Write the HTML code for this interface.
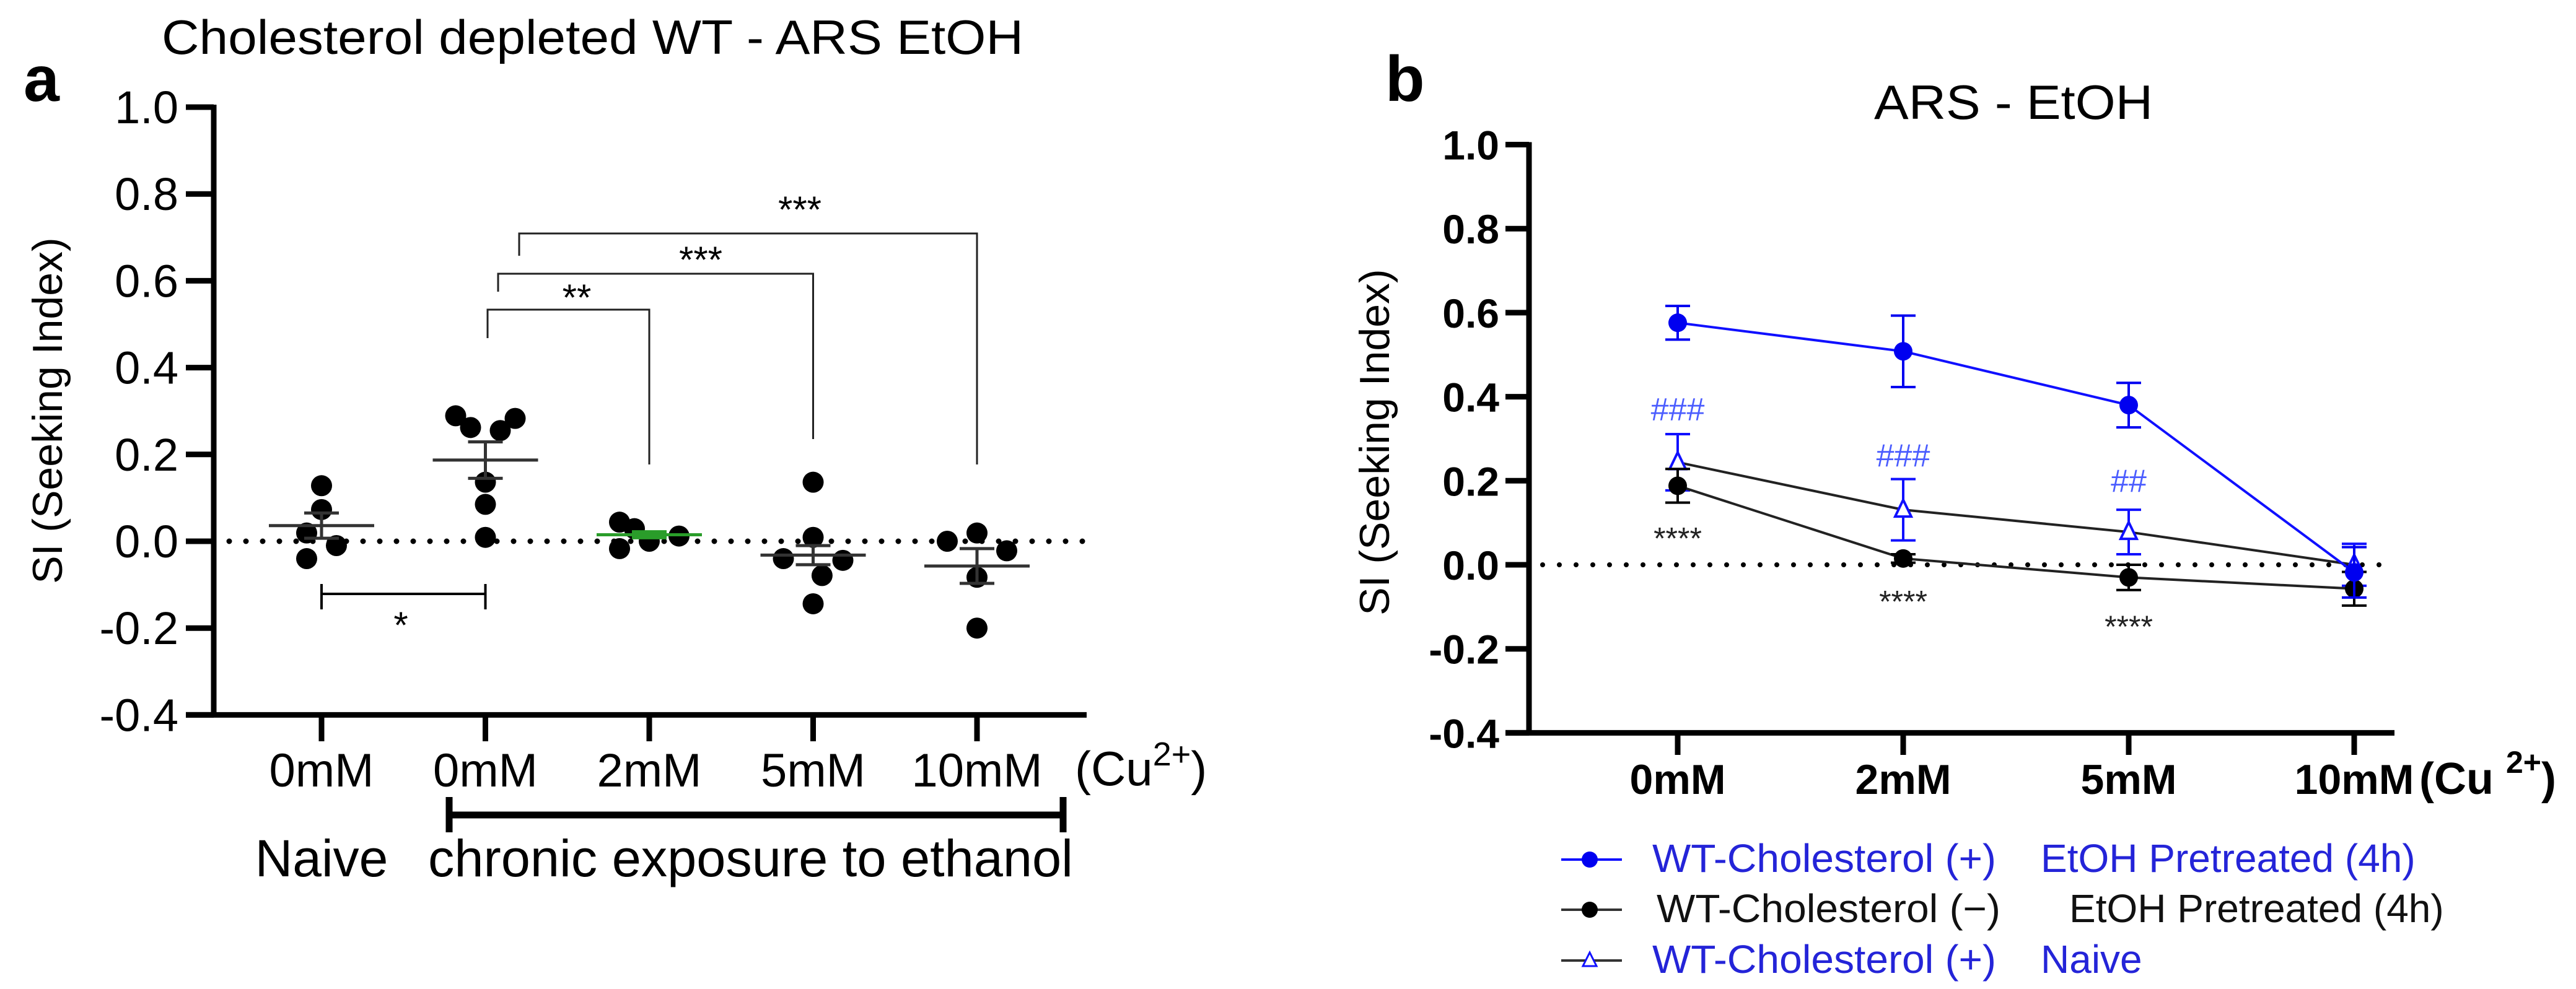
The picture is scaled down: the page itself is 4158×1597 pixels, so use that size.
<!DOCTYPE html>
<html><head><meta charset="utf-8"><style>
html,body{margin:0;padding:0;background:#fff;}
svg{display:block;font-family:"Liberation Sans",Arial,sans-serif;}
</style></head><body>
<svg id="fig" width="4158" height="1597" viewBox="0 0 4158 1597" xmlns="http://www.w3.org/2000/svg">
<rect width="4158" height="1597" fill="#fff"/>
<g id="pa">
<text x="38" y="163" font-size="104" font-weight="bold">a</text>
<text x="261" y="87" font-size="78" textLength="1391" lengthAdjust="spacingAndGlyphs">Cholesterol depleted WT - ARS EtOH</text>
<text transform="translate(100,663) rotate(-90)" text-anchor="middle" font-size="68">SI (Seeking Index)</text>
</g>
<g id="pb">
<text x="2236" y="163" font-size="104" font-weight="bold">b</text>
<text x="3025" y="192" font-size="78" textLength="450" lengthAdjust="spacingAndGlyphs">ARS - EtOH</text>
<text transform="translate(2242,714) rotate(-90)" text-anchor="middle" font-size="68">SI (Seeking Index)</text>
</g>
</svg>
<script>
// ---------- Panel a data ----------
const aCategories = ["0mM","0mM","2mM","5mM","10mM"];
const aPoints = [
  [0.128,0.073,0.019,-0.01,-0.04],
  [0.289,0.262,0.255,0.283,0.136,0.085,0.009],
  [0.044,-0.017,0.029,0.0,0.012],
  [0.136,-0.04,0.009,-0.044,-0.079,-0.144],
  [0.0,0.019,-0.022,-0.083,-0.2]
];
const aJitter = [
  [0,0,-1,1,-1],
  [-2,-1,1,2,0,0,0],
  [-2,-2,-1,0,2],
  [0,-2,0,2,0.6,0],
  [-2,0,2,0,0]
];
const aMeans = [0.036,0.187,0.015,-0.032,-0.057];
const aSems = [0.029,0.042,0.007,0.022,0.04];
const aTicks = [1.0,0.8,0.6,0.4,0.2,0.0,-0.2,-0.4];
const aTickLabels = ["1.0","0.8","0.6","0.4","0.2","0.0","-0.2","-0.4"];
// ---------- Panel b data ----------
const bCategories = ["0mM","2mM","5mM","10mM"];
const bBlueMean = [0.576,0.508,0.38,-0.018];
const bBlueErr = [0.04,0.085,0.053,0.06];
const bBlackMean = [0.188,0.015,-0.03,-0.057];
const bBlackErr = [0.04,0.01,0.03,0.04];
const bTriMean = [0.244,0.131,0.078,0.0];
const bTriErr = [0.067,0.073,0.053,0.05];
const bHash = ["###","###","##",""];
const bStars = ["****","****","****",""];
const bStarVals = [0.07,-0.08,-0.14,null];
const bHashVals = [0.37,0.26,0.2,null];
const bTicks = [1.0,0.8,0.6,0.4,0.2,0.0,-0.2,-0.4];
const bTickLabels = ["1.0","0.8","0.6","0.4","0.2","0.0","-0.2","-0.4"];

const NS="http://www.w3.org/2000/svg";
function mk(parent,tag,attrs,txt){const e=document.createElementNS(NS,tag);for(const k in attrs)e.setAttribute(k,attrs[k]);if(txt!==undefined)e.textContent=txt;parent.appendChild(e);return e;}

// ---- Panel a axes ----
const pa=document.getElementById('pa');
const aY=v=>874-(v/0.2)*140.2;
const aXs=[519,783,1046,1311,1577];
const aX=i=>aXs[0]+(aXs[4]-aXs[0])/4*i;
let e;
e=mk(pa,'line',{x1:345,y1:aY(1.0)-4,x2:345,y2:aY(-0.4)+4,stroke:'#000','stroke-width':9});


e=mk(pa,'line',{x1:300,y1:aY(-0.4),x2:1754,y2:aY(-0.4),stroke:'#000','stroke-width':9});


aTicks.forEach((t,i)=>{
  e=mk(pa,'line',{x1:300,y1:aY(t),x2:345,y2:aY(t),stroke:'#000','stroke-width':9});
  
  
  e=mk(pa,'text',{x:288,y:aY(t)+26,'text-anchor':'end','font-size':74},aTickLabels[i]);
  
  
});
aCategories.forEach((c,i)=>{
  e=mk(pa,'line',{x1:aX(i),y1:aY(-0.4),x2:aX(i),y2:1197,stroke:'#000','stroke-width':9});
  
  
  e=mk(pa,'text',{x:aX(i),y:1270,'text-anchor':'middle','font-size':76},c);
  
  
});
e=mk(pa,'text',{x:1735,y:1268,'font-size':78},'(Cu');


mk(e,'tspan',{dy:-32,'font-size':54},'2+');
mk(e,'tspan',{dy:32},')');
e=mk(pa,'line',{x1:370,y1:aY(0),x2:1750,y2:aY(0),stroke:'#000','stroke-width':9,'stroke-dasharray':'0 27','stroke-linecap':'round'});


// group bracket
e=mk(pa,'path',{d:'M725 1287 V1344 M725 1316 H1716 M1716 1287 V1344',stroke:'#000','stroke-width':11,fill:'none'});


e=mk(pa,'text',{x:519,y:1415,'text-anchor':'middle','font-size':84},'Naive');


e=mk(pa,'text',{x:691,y:1415,'font-size':84,textLength:1041,lengthAdjust:'spacingAndGlyphs'},'chronic exposure to ethanol');


// points
aPoints.forEach((pts,g)=>{
  pts.forEach((v,k)=>{
    e=mk(pa,'circle',{cx:aX(g)+aJitter[g][k]*24,cy:aY(v),r:17,fill:'#000'});
    
    
  });
  const col=g===2?'#2a9d2a':'#333';
  e=mk(pa,'line',{x1:aX(g)-85,y1:aY(aMeans[g]),x2:aX(g)+85,y2:aY(aMeans[g]),stroke:col,'stroke-width':5});
  
  
  const t=aY(aMeans[g]+aSems[g]),b=aY(aMeans[g]-aSems[g]);
  e=mk(pa,'path',{d:`M${aX(g)-28} ${t} H${aX(g)+28} M${aX(g)} ${t} V${b} M${aX(g)-28} ${b} H${aX(g)+28}`,stroke:col,'stroke-width':5,fill:'none'});
  
  
});
// significance brackets
e=mk(pa,'path',{d:`M${aX(0)} 943 V984 M${aX(0)} 959 H${aX(1)} M${aX(1)} 943 V984`,stroke:'#000','stroke-width':4,fill:'none'});


e=mk(pa,'text',{x:647,y:1030,'text-anchor':'middle','font-size':60},'*');


[[787,546,500,aX(2),750,'**',931,479],[804,471,442,aX(3),709,'***',1131,418],[838,413,377,aX(4),750,'***',1291,337]].forEach(s=>{
  e=mk(pa,'path',{d:`M${s[0]} ${s[1]} V${s[2]} H${s[3]} V${s[4]}`,stroke:'#222','stroke-width':3,fill:'none'});
  
  
  e=mk(pa,'text',{x:s[6],y:s[7]+22,'text-anchor':'middle','font-size':60},s[5]);
  
  
});

// ---- Panel b ----
const pb=document.getElementById('pb');
const bY=v=>912-(v/0.2)*135.7;
const bXs=[2708,3071,3436,3800];
const bX=i=>bXs[0]+(bXs[3]-bXs[0])/3*i;
e=mk(pb,'line',{x1:2468,y1:bY(1.0)-4,x2:2468,y2:bY(-0.4)+4,stroke:'#000','stroke-width':9});


e=mk(pb,'line',{x1:2430,y1:bY(-0.4),x2:3865,y2:bY(-0.4),stroke:'#000','stroke-width':9});


bTicks.forEach((t,i)=>{
  e=mk(pb,'line',{x1:2430,y1:bY(t),x2:2468,y2:bY(t),stroke:'#000','stroke-width':9});
  
  
  e=mk(pb,'text',{x:2420,y:bY(t)+24,'text-anchor':'end','font-size':66,'font-weight':'bold'},bTickLabels[i]);
  
  
});
bCategories.forEach((c,i)=>{
  e=mk(pb,'line',{x1:bX(i),y1:bY(-0.4),x2:bX(i),y2:1219,stroke:'#000','stroke-width':9});
  
  
  e=mk(pb,'text',{x:bX(i),y:1282,'text-anchor':'middle','font-size':68,'font-weight':'bold'},c);
  
  
});
e=mk(pb,'text',{x:3905,y:1282,'font-size':72,'font-weight':'bold'},'(Cu ');


mk(e,'tspan',{dy:-34,'font-size':50},'2+');
mk(e,'tspan',{dy:34},')');
e=mk(pb,'line',{x1:2490,y1:bY(0),x2:3862,y2:bY(0),stroke:'#000','stroke-width':8,'stroke-dasharray':'0 27','stroke-linecap':'round'});


function series(means,errs,lineCol,markCol,marker,name){
  const pts=means.map((v,i)=>`${bX(i)},${bY(v)}`).join(' ');
  e=mk(pb,'polyline',{points:pts,fill:'none',stroke:lineCol,'stroke-width':4});
  
  
  means.forEach((v,i)=>{
    const x=bX(i),t=bY(v+errs[i]),b=bY(v-errs[i]);
    e=mk(pb,'path',{d:`M${x-20} ${t} H${x+20} M${x} ${t} V${b} M${x-20} ${b} H${x+20}`,stroke:markCol,'stroke-width':4,fill:'none'});
    
    
    if(marker==='circle'){
      e=mk(pb,'circle',{cx:x,cy:bY(v),r:15,fill:markCol});
    } else {
      const y=bY(v);
      e=mk(pb,'polygon',{points:`${x},${y-16} ${x-13},${y+11} ${x+13},${y+11}`,fill:'#fff',stroke:markCol,'stroke-width':4});
    }
    
    
  });
}
series(bTriMean,bTriErr,'#222','#1010ff','tri','naive-series');
series(bBlackMean,bBlackErr,'#222','#000','circle','chol-minus-series');
series(bBlueMean,bBlueErr,'#1010ff','#0000f0','circle','chol-plus-series');
bHash.forEach((h,i)=>{
  if(!h)return;
  e=mk(pb,'text',{x:bX(i),y:bY(bHashVals[i])+18,'text-anchor':'middle','font-size':52,fill:'#4a5cff'},h);
  
  
});
bStars.forEach((s,i)=>{
  if(!s)return;
  e=mk(pb,'text',{x:bX(i),y:bY(bStarVals[i])+22,'text-anchor':'middle','font-size':50,fill:'#222'},s);
  
  
});
// legend
const legend=[[1408,'#1010ff','circle','WT-Cholesterol (+)','EtOH Pretreated (4h)',3294,'#2424d8'],
              [1489,'#333','circle','WT-Cholesterol (−)','EtOH Pretreated (4h)',3340,'#111'],
              [1571,'#1010ff','tri','WT-Cholesterol (+)','Naive',3294,'#2424d8']];
legend.forEach((L,i)=>{
  const g=mk(pb,'g',{});
  
  
  const y=L[0]-20;
  mk(g,'line',{x1:2520,y1:y,x2:2618,y2:y,stroke:i===0?'#1010ff':'#333','stroke-width':4});
  if(L[2]==='circle') mk(g,'circle',{cx:2566,cy:y,r:13,fill:i===0?'#0000f0':'#000'});
  else mk(g,'polygon',{points:`2566,${y-13} 2555,${y+9} 2577,${y+9}`,fill:'#fff',stroke:'#1010ff','stroke-width':3});
  mk(g,'text',{x:i===1?2674:2667,y:L[0],'font-size':64,fill:L[6],textLength:555,lengthAdjust:'spacingAndGlyphs'},L[3]);
  mk(g,'text',{x:L[5],y:L[0],'font-size':64,fill:L[6]},L[4]);
});
</script>
</body></html>
